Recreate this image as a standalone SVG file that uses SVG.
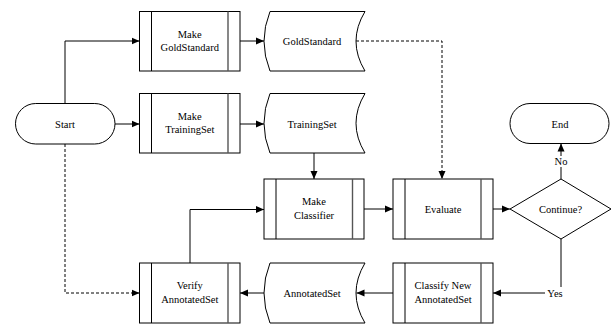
<svg xmlns="http://www.w3.org/2000/svg" width="612" height="324" viewBox="0 0 612 324" font-family="Liberation Serif, Times New Roman, serif">
<style>
.s{fill:#fff;stroke:#000;stroke-width:1}
.in{fill:none;stroke:#000;stroke-width:1}
.in2{fill:none;stroke:#555;stroke-width:1.4}
.t{font-size:10.5px;fill:#000;text-anchor:middle}
.c{fill:none;stroke:#000;stroke-width:1}
.d{fill:none;stroke:#000;stroke-width:1;stroke-dasharray:3,2}
</style>
<defs>
<marker id="a" markerUnits="userSpaceOnUse" markerWidth="9" markerHeight="8" refX="8" refY="4" orient="auto">
<path d="M0,0.5 L8,4 L0,7.5 Z" fill="#000"/>
</marker>
</defs>
<g id="connectors">
<path class="c" d="M65,103.5 V41 H139.5" marker-end="url(#a)"/>
<path class="c" d="M115,124 H139.5" marker-end="url(#a)"/>
<path class="c" d="M240,41 H264" marker-end="url(#a)"/>
<path class="c" d="M240,124 H264" marker-end="url(#a)"/>
<path class="d" d="M356,41 H442 V179" marker-end="url(#a)"/>
<path class="c" d="M314,153 V179" marker-end="url(#a)"/>
<path class="c" d="M364,209 H393" marker-end="url(#a)"/>
<path class="c" d="M493,209 H510" marker-end="url(#a)"/>
<path class="c" d="M561,179 V167"/>
<path class="c" d="M561,156 V143.5" marker-end="url(#a)"/>
<path class="c" d="M561,239 V287"/>
<path class="c" d="M545,293 H493" marker-end="url(#a)"/>
<path class="c" d="M393,293 H356.5" marker-end="url(#a)"/>
<path class="c" d="M264,293 H240" marker-end="url(#a)"/>
<path class="c" d="M190,263 V209.5 H264" marker-end="url(#a)"/>
<path class="d" d="M65,144 V293 H139.5" marker-end="url(#a)"/>
<text class="t" x="561" y="165">No</text>
<text class="t" x="555" y="297">Yes</text>
</g>
<g id="start">
<rect class="s" x="15.5" y="103.5" width="99.5" height="40.5" rx="20.25"/>
<text class="t" x="65" y="127.5">Start</text>
</g>
<g id="end">
<rect class="s" x="510" y="103.5" width="99" height="40" rx="20"/>
<text class="t" x="560" y="127.5">End</text>
</g>
<g id="makeGold">
<rect class="s" x="139.5" y="11.5" width="100.5" height="59.5"/>
<line class="in" x1="151.5" y1="11.5" x2="151.5" y2="71"/>
<line class="in2" x1="228" y1="11.5" x2="228" y2="71"/>
<text class="t" x="189.75" y="37.5">Make</text>
<text class="t" x="189.75" y="51">GoldStandard</text>
</g>
<g id="makeTrain">
<rect class="s" x="139.5" y="93.5" width="100.5" height="59.5"/>
<line class="in" x1="151.5" y1="93.5" x2="151.5" y2="153"/>
<line class="in2" x1="228" y1="93.5" x2="228" y2="153"/>
<text class="t" x="189.75" y="119.5">Make</text>
<text class="t" x="189.75" y="133">TrainingSet</text>
</g>
<g id="gold">
<path class="s" d="M270,11.5 H365 Q347,41.25 365,71 H270 Q258,41.25 270,11.5 Z"/>
<text class="t" x="312" y="45">GoldStandard</text>
</g>
<g id="train">
<path class="s" d="M270,93.5 H365 Q347,123.25 365,153 H270 Q258,123.25 270,93.5 Z"/>
<text class="t" x="312" y="127.5">TrainingSet</text>
</g>
<g id="makeClassifier">
<rect class="s" x="264" y="179" width="100" height="60"/>
<line class="in" x1="276" y1="179" x2="276" y2="239"/>
<line class="in2" x1="352.5" y1="179" x2="352.5" y2="239"/>
<text class="t" x="314" y="205">Make</text>
<text class="t" x="314" y="218.5">Classifier</text>
</g>
<g id="evaluate">
<rect class="s" x="393" y="179" width="100" height="60"/>
<line class="in" x1="405" y1="179" x2="405" y2="239"/>
<line class="in2" x1="481" y1="179" x2="481" y2="239"/>
<text class="t" x="443" y="212.5">Evaluate</text>
</g>
<g id="continue">
<path class="s" d="M510,209 L561,179 L611,209 L561,239 Z"/>
<text class="t" x="560.5" y="212.5">Continue?</text>
</g>
<g id="classify">
<rect class="s" x="393" y="263" width="100" height="60"/>
<line class="in" x1="405" y1="263" x2="405" y2="323"/>
<line class="in2" x1="481" y1="263" x2="481" y2="323"/>
<text class="t" x="443" y="289">Classify New</text>
<text class="t" x="443" y="302.5">AnnotatedSet</text>
</g>
<g id="annotated">
<path class="s" d="M270,263 H365 Q347,293 365,323 H270 Q258,293 270,263 Z"/>
<text class="t" x="312" y="296.5">AnnotatedSet</text>
</g>
<g id="verify">
<rect class="s" x="139.5" y="263" width="100.5" height="60"/>
<line class="in" x1="151.5" y1="263" x2="151.5" y2="323"/>
<line class="in2" x1="228" y1="263" x2="228" y2="323"/>
<text class="t" x="189.75" y="289">Verify</text>
<text class="t" x="189.75" y="302.5">AnnotatedSet</text>
</g>
</svg>
